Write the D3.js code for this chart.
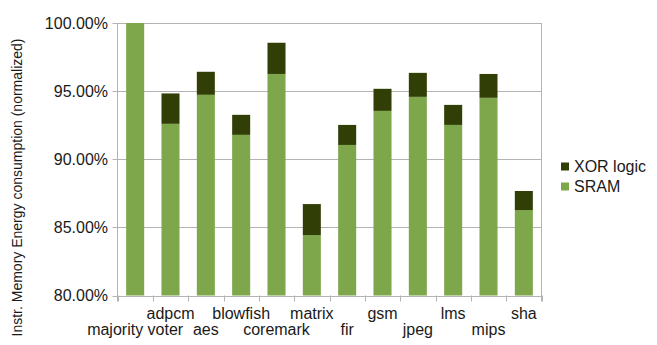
<!DOCTYPE html>
<html><head><meta charset="utf-8">
<script src="https://cdn.jsdelivr.net/npm/d3@7"></script>
<style>body{margin:0;background:#fff}svg{display:block;font-family:"Liberation Sans",Arial,sans-serif}</style>
</head><body><svg id="c" width="657" height="345"></svg>
<script>
const categories = ["majority voter","adpcm","aes","blowfish","coremark","matrix","fir","gsm","jpeg","lms","mips","sha"];
const labelRow = [1, 0, 1, 0, 1, 0, 1, 0, 1, 0, 1, 0];
const sram = [100, 92.6, 94.73, 91.79, 96.26, 84.43, 91.05, 93.55, 94.58, 92.52, 94.51, 86.27];
const xorLogic = [0, 2.23, 1.69, 1.47, 2.29, 2.28, 1.47, 1.62, 1.76, 1.47, 1.75, 1.4];
const yTicks = [80, 85, 90, 95, 100];
const seriesNames = ["XOR logic", "SRAM"];
const colors = {"SRAM": "#7ea64a", "XOR logic": "#313f06"};

const svg = d3.select("#c");
const L = 117.5, R = 541.5, T = 23, B = 295.5;
const x = d3.scaleBand().domain(d3.range(categories.length)).range([L, R]).paddingInner(0.49).paddingOuter(0.245);
const xb = d3.scaleBand().domain(d3.range(categories.length)).range([L, R]);
const y = d3.scaleLinear().domain([80, 100]).range([B, T]);
const grid = "#b3b3b3";
const txt = "#1a1a1a";

// gridlines
svg.append("g").selectAll("line").data(yTicks).join("line")
  .attr("x1", L - 5).attr("x2", R).attr("y1", d => Math.round(y(d)) + 0.5).attr("y2", d => Math.round(y(d)) + 0.5)
  .attr("stroke", grid).attr("stroke-width", 1);
svg.append("line").attr("x1", R).attr("x2", R).attr("y1", T).attr("y2", B + 6).attr("stroke", grid);
svg.append("line").attr("x1", L).attr("x2", L).attr("y1", T).attr("y2", B + 6).attr("stroke", grid);
svg.append("g").selectAll("line").data(d3.range(categories.length + 1)).join("line")
  .attr("x1", i => Math.round(L + i * xb.bandwidth()) + 0.5).attr("x2", i => Math.round(L + i * xb.bandwidth()) + 0.5)
  .attr("y1", B).attr("y2", B + 6).attr("stroke", grid);

// bars
const stack = categories.map((c, i) => ({i, sram: sram[i], xor: xorLogic[i]}));
svg.append("g").selectAll("rect").data(stack).join("rect")
  .attr("x", d => x(d.i)).attr("width", x.bandwidth())
  .attr("y", d => y(d.sram)).attr("height", d => y(80) - y(d.sram))
  .attr("fill", colors["SRAM"]);
svg.append("g").selectAll("rect").data(stack.filter(d => d.xor > 0)).join("rect")
  .attr("x", d => x(d.i)).attr("width", x.bandwidth())
  .attr("y", d => y(d.sram + d.xor)).attr("height", d => y(d.sram) - y(d.sram + d.xor))
  .attr("fill", colors["XOR logic"]);

// y tick labels
svg.append("g").selectAll("text").data(yTicks).join("text")
  .attr("x", 108).attr("y", d => y(d) + 5.8).attr("text-anchor", "end")
  .attr("font-size", 16).attr("fill", txt).text(d => d.toFixed(2) + "%");

// x labels (staggered)
svg.append("g").selectAll("text").data(categories).join("text")
  .attr("x", (d, i) => xb(i) + xb.bandwidth() / 2)
  .attr("y", (d, i) => labelRow[i] ? 335 : 318.5)
  .attr("text-anchor", "middle").attr("font-size", 16).attr("fill", txt)
  .text(d => d);

// y title
svg.append("text").attr("transform", "translate(22,187.5) rotate(-90)")
  .attr("text-anchor", "middle").attr("font-size", 14).attr("fill", txt)
  .text("Instr. Memory Energy consumption (normalized)");

// legend
const lg = svg.append("g").selectAll("g").data(seriesNames).join("g")
  .attr("transform", (d, i) => `translate(561,${162.5 + i * 20})`);
lg.append("rect").attr("width", 8).attr("height", 8).attr("fill", d => colors[d]);
lg.append("text").attr("x", 13).attr("y", 9.8).attr("font-size", 16).attr("fill", txt).text(d => d);
</script></body></html>
